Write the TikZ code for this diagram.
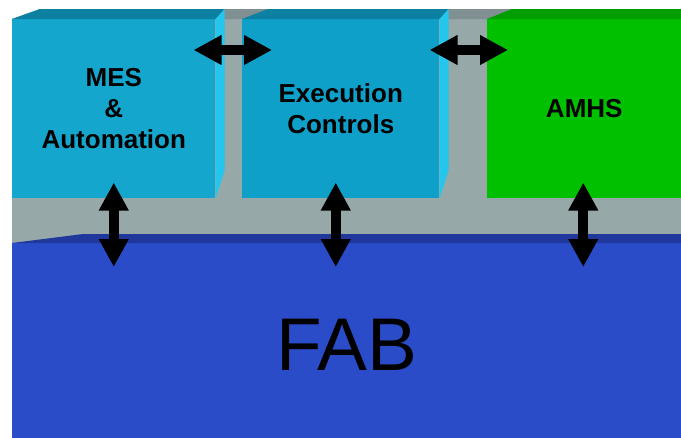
\documentclass[tikz,border=0pt]{standalone}
\usepackage{fontspec}
\setmainfont{Liberation Sans}
\usetikzlibrary{arrows.meta,calc}

\definecolor{mescyan}{RGB}{20,166,204}
\definecolor{execcyan}{RGB}{14,160,200}
\definecolor{cyantop}{RGB}{12,128,160}
\definecolor{cyanside}{RGB}{36,198,238}
\definecolor{amhsgreen}{RGB}{0,192,0}
\definecolor{greentop}{RGB}{0,158,0}
\definecolor{plategray}{RGB}{150,168,168}
\definecolor{platetop}{RGB}{128,144,146}
\definecolor{fabblue}{RGB}{42,76,200}
\definecolor{fabtop}{RGB}{32,56,156}

\tikzset{
  block/.style={rectangle, inner sep=0pt, anchor=north west, align=center, text=black,
    font=\bfseries\fontsize{19.5pt}{23.25pt}\selectfont},
  dblarrow/.style={{Triangle[length=21pt,width=21pt]}-{Triangle[length=21pt,width=21pt]},
    line width=7.5pt, black},
}

\begin{document}
\begin{tikzpicture}[x=0.75pt,y=0.75pt,yscale=-1,xscale=1]
	\clip (0,0) rectangle (681,437);
	
	%Shape: Back plate
	\fill [plategray] (12,19) rectangle (681,243) ;
	\fill [platetop] (12,19) -- (40,9) -- (681,9) -- (681,19) -- cycle ;
	
	%Shape: FAB block
	\node [block, fill=fabblue, minimum width=501.75pt, minimum height=153pt,
	  font=\fontsize{56pt}{60pt}\selectfont] (fab) at (12,243) {FAB};
	\fill [fabtop] (fab.north west) -- (83,234) -- (681,234) -- (fab.north east) -- cycle ;
	
	%Shape: MES box
	\node [block, fill=mescyan, minimum width=152.25pt, minimum height=134.25pt] (mes) at (12,19) {MES\\\&\\Automation};
	\fill [cyantop] (mes.north west) -- ++(28,-10) -- ($(mes.north east)+(9,-10)$) -- (mes.north east) -- cycle ;
	\fill [cyanside] (mes.north east) -- ++(9,-10) -- ($(mes.south east)+(9,-28)$) -- (mes.south east) -- cycle ;
	
	%Shape: Execution box
	\node [block, fill=execcyan, minimum width=147.75pt, minimum height=134.25pt] (exec) at (242,19) {Execution\\Controls};
	\fill [cyantop] (exec.north west) -- ++(26,-10) -- ($(exec.north east)+(9,-10)$) -- (exec.north east) -- cycle ;
	\fill [cyanside] (exec.north east) -- ++(9,-10) -- ($(exec.south east)+(9,-28)$) -- (exec.south east) -- cycle ;
	
	%Shape: AMHS box
	\node [block, fill=amhsgreen, minimum width=145.5pt, minimum height=134.25pt] (amhs) at (487,19) {AMHS};
	\fill [greentop] (amhs.north west) -- ++(25,-10) -- (681,9) -- (amhs.north east) -- cycle ;
	
	%Arrows between boxes
	\draw [dblarrow] ($(mes.north east)+(-22,31)$) -- ($(exec.north west)+(30,31)$) ;
	\draw [dblarrow] ($(exec.north east)+(-10,31)$) -- ($(amhs.north west)+(21,31)$) ;
	
	%Arrows down to the FAB
	\draw [dblarrow] ($(mes.south)+(0,-16)$) -- ($(mes.south |- fab.north)+(0,24)$) ;
	\draw [dblarrow] ($(exec.south)+(-5,-16)$) -- ($(exec.south |- fab.north)+(-5,24)$) ;
	\draw [dblarrow] ($(amhs.south)+(-1,-16)$) -- ($(amhs.south |- fab.north)+(-1,24)$) ;
	
\end{tikzpicture}
\end{document}
